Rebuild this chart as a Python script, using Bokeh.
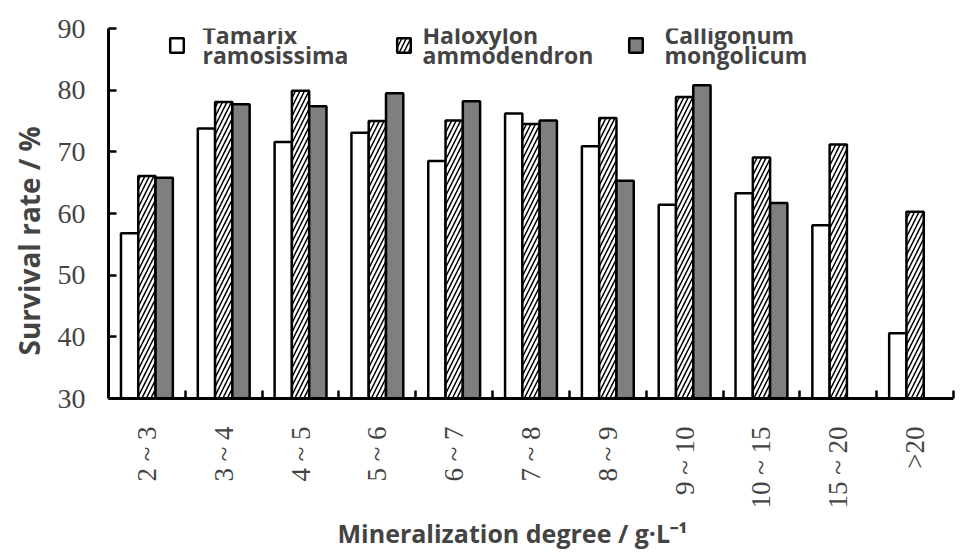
import numpy as np
from bokeh.plotting import figure
from bokeh.models import (ColumnDataSource, Range1d, FixedTicker, Legend,
                          LegendItem, Label, Title)
from bokeh.transform import dodge
from bokeh.embed import file_html
from bokeh.resources import INLINE

categories = ["2 ~ 3", "3 ~ 4", "4 ~ 5", "5 ~ 6", "6 ~ 7", "7 ~ 8",
              "8 ~ 9", "9 ~ 10", "10 ~ 15", "15 ~ 20", ">20"]
tamarix = [56.8, 73.8, 71.6, 73.1, 68.5, 76.2, 70.9, 61.4, 63.3, 58.1, 40.6]
haloxylon = [66.1, 78.1, 79.9, 75.0, 75.1, 74.5, 75.5, 78.9, 69.1, 71.2, 60.3]
calligonum = [65.8, 77.7, 77.4, 79.5, 78.2, 75.1, 65.3, 80.8, 61.7]
series_names = [("Tamarix", "ramosissima"), ("Haloxylon", "ammodendron"),
                ("Calligonum", "mongolicum")]
y_ticks = [30, 40, 50, 60, 70, 80, 90]
x_title = "Mineralization degree / g\u00b7L\u207b\u00b9"
y_title = "Survival rate / %"

idx = list(range(len(categories)))
src = ColumnDataSource(dict(x=idx, t=tamarix, h=haloxylon))
src_c = ColumnDataSource(dict(x=idx[:len(calligonum)], c=calligonum))

p = figure(width=960, height=551, output_backend="svg", toolbar_location=None,
           x_range=Range1d(-0.5, len(categories) - 0.5),
           y_range=Range1d(y_ticks[0], y_ticks[-1]),
           min_border_left=106, min_border_right=7, min_border_top=28,
           min_border_bottom=152)
p.outline_line_color = None
p.grid.visible = False
p.background_fill_color = "white"

bw = 0.225
base = y_ticks[0]
r1 = p.vbar(x=dodge("x", -bw, range=p.x_range), top="t", bottom=base, width=bw,
            source=src, fill_color="white", line_color="black", line_width=2.5)
r2 = p.vbar(x="x", top="h", bottom=base, width=bw, source=src,
            fill_color="white", hatch_pattern="/", hatch_color="black",
            hatch_weight=1.5, hatch_scale=9, line_color="black", line_width=2.5)
r3 = p.vbar(x=dodge("x", bw, range=p.x_range), top="c", bottom=base, width=bw,
            source=src_c, fill_color="#7f7f7f", line_color="black", line_width=2.5)

xa = p.xaxis[0]
xa.ticker = FixedTicker(ticks=idx, minor_ticks=[i + 0.5 for i in idx])
xa.major_label_overrides = {i: c for i, c in zip(idx, categories)}
xa.major_label_orientation = np.pi / 2
xa.major_tick_line_color = None
xa.minor_tick_in = 8
xa.minor_tick_out = 0
xa.minor_tick_line_width = 2.5
xa.axis_line_width = 3
xa.major_label_text_font = "Liberation Serif"
xa.major_label_text_font_size = "27px"
xa.major_label_standoff = 22

ya = p.yaxis[0]
ya.ticker = FixedTicker(ticks=y_ticks, minor_ticks=[])
ya.major_tick_in = 8
ya.major_tick_out = 0
ya.major_tick_line_width = 2.5
ya.minor_tick_line_color = None
ya.axis_line_width = 3
ya.major_label_text_font = "Liberation Serif"
ya.major_label_text_font_size = "28px"
ya.major_label_standoff = 23

p.add_layout(Title(text=x_title, align="left", offset=229, standoff=4,
                   text_font="Open Sans", text_font_style="bold",
                   text_font_size="25px"), "below")
p.add_layout(Title(text=y_title, align="left", offset=43, standoff=14,
                   text_font="Open Sans", text_font_style="bold",
                   text_font_size="28px"), "left")

def make_key(rend, loc):
    lg = Legend(items=[LegendItem(label=" ", renderers=[rend])], location=loc,
                orientation="horizontal", padding=0, margin=0, spacing=0,
                border_line_color=None, background_fill_alpha=0,
                glyph_width=17, glyph_height=18, label_standoff=0,
                label_text_font_size="1px", label_height=18, label_width=1)
    p.add_layout(lg)

def make_text(lines, x):
    for txt, y in zip(lines, (364, 344)):
        p.add_layout(Label(x=x, y=y, x_units="screen", y_units="screen",
                           text=txt, text_font="Open Sans",
                           text_font_style="bold", text_font_size="23px",
                           text_baseline="alphabetic", text_align="left"))

make_key(r1, (60, 344))
make_key(r2, (287, 344))
make_key(r3, (519, 344))
make_text(series_names[0], 94)
make_text(series_names[1], 314)
make_text(series_names[2], 556)

open("out.html", "w").write(file_html(p, INLINE))
